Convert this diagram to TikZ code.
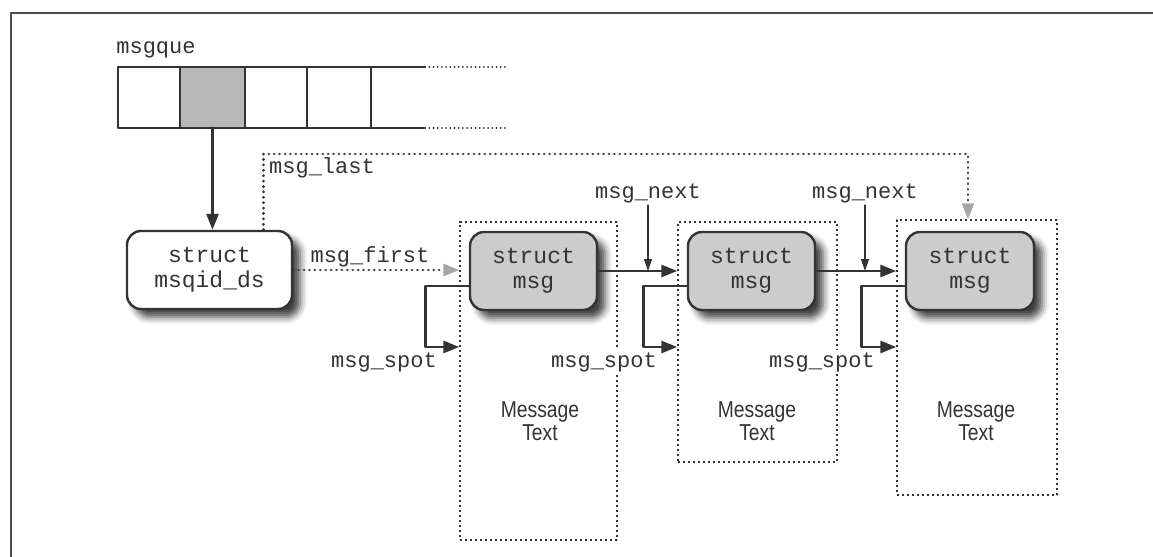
\documentclass[tikz,border=0pt]{standalone}
\usepackage{fontspec}
\setmainfont{Liberation Serif}
\setmonofont{Liberation Mono}
\newfontfamily\narrowsans[FakeStretch=0.84]{Liberation Sans}
\usetikzlibrary{arrows.meta,shadows.blur,fit}
\definecolor{inkgray}{gray}{0.2}
\definecolor{slotgray}{gray}{0.72}
\definecolor{boxgray}{gray}{0.8}
\begin{document}
\begin{tikzpicture}[line join = round, line cap = round, >={Triangle[length=8pt,width=6pt]}, x = 0.5pt, y = -0.5pt,
	every node/.style={text=inkgray},
	label/.style={font=\ttfamily\fontsize{11}{12}\selectfont, inner sep=1pt},
	structbox/.style={draw=inkgray, line width=1.2pt, rounded corners=7pt, minimum height=39pt, align=center, font=\ttfamily\fontsize{11.5}{12.5}\selectfont, blur shadow={shadow xshift=4pt, shadow yshift=-4pt, shadow blur radius=3.5pt, shadow opacity=75}},
	msgframe/.style={draw=inkgray, line width=0.7pt, line cap=butt, dash pattern=on 1.2pt off 1.3pt, inner sep=0pt},
	msgtext/.style={align=center, font=\narrowsans\fontsize{11.5}{11.5}\selectfont},
	bigarrow/.style={->, draw=inkgray, line width=1.4pt},
	thinarrow/.style={-{Triangle[length=6pt,width=4pt]}, draw=inkgray, line width=0.6pt},
	dotarrow/.style={-{Triangle[length=8pt,width=6pt,fill=gray!70,color=gray!70]}, draw=inkgray, line width=1.4pt, dash pattern=on 0.1pt off 2.6pt}]
	\useasboundingbox (0,0) rectangle (1153,557);
	%Khung ngoài
	\draw[gray!60!black, line width=0.8pt] (11,557) -- (11,13) -- (1153,13);
	%Vẽ mảng msgque
	\node[label] (que) at (156,50) {msgque};
	\fill[slotgray] (180,67) rectangle (245,128);
	\draw[inkgray, line width=0.8pt] (425,67) -- (118,67) -- (118,128) -- (425,128);
	\foreach \x in {180,245,307,371} \draw[inkgray, line width=0.8pt] (\x,67)--(\x,128);
	\foreach \y in {67,128} \draw[inkgray, line width=0.9pt, dash pattern=on 0.1pt off 2pt] (425,\y)--(505,\y);
	\coordinate (slot) at (212.5,128);
	%Các khung Message Text
	\node[msgframe, fit={(460,222) (617,540)}] (frame1) {};
	\node[msgframe, fit={(678,222) (837,462)}] (frame2) {};
	\node[msgframe, fit={(897,220) (1057,495)}] (frame3) {};
	\node[msgtext] (text1) at (540,421) {Message\\Text};
	\node[msgtext] (text2) at (757,421) {Message\\Text};
	\node[msgtext] (text3) at (976,421) {Message\\Text};
	%Các hộp struct
	\node[structbox, fill=white, minimum width=82.5pt] (msqid) at (209.5,270) {struct\\msqid\_ds};
	\node[structbox, fill=boxgray, minimum width=63.5pt] (msg1) at (533.5,271) {struct\\msg};
	\node[structbox, fill=boxgray, minimum width=63.5pt] (msg2) at (751.5,271) {struct\\msg};
	\node[structbox, fill=boxgray, minimum width=64pt] (msg3) at (970,271) {struct\\msg};
	%Các mũi tên
	\draw[bigarrow] (slot) -- (slot |- msqid.north);
	\coordinate (lastend) at ([xshift=-4.5pt]frame3.north);
	\draw[dotarrow] ([xshift=27pt]msqid.north) |- (lastend |- 0,154) -- (lastend);
	\node[label] (last) at (322,168) {msg\_last};
	\draw[dotarrow] (msqid.east) -- (msqid.east -| frame1.west);
	\node[label] (first) at (370,257) {msg\_first};
	\node[label] (next1) at (648,193) {msg\_next};
	\node[label] (next2) at (865,193) {msg\_next};
	\foreach \i/\j in {1/2,2/3} {
		\draw[bigarrow] (msg\i.east) -- (msg\i.east -| frame\j.west);
		\draw[thinarrow] (next\i.south) -- (next\i.south |- msg\i.east);
	}
	\foreach \i in {1,2,3} \draw[bigarrow] ([yshift=-7.5pt]msg\i.west) -- ++(-43,0) |- (frame\i.west |- 0,347);
	\node[label, fill=white] (spot1) at (384,362) {msg\_spot};
	\node[label, fill=white] (spot2) at (604,362) {msg\_spot};
	\node[label, fill=white] (spot3) at (822,362) {msg\_spot};
\end{tikzpicture}
\end{document}
